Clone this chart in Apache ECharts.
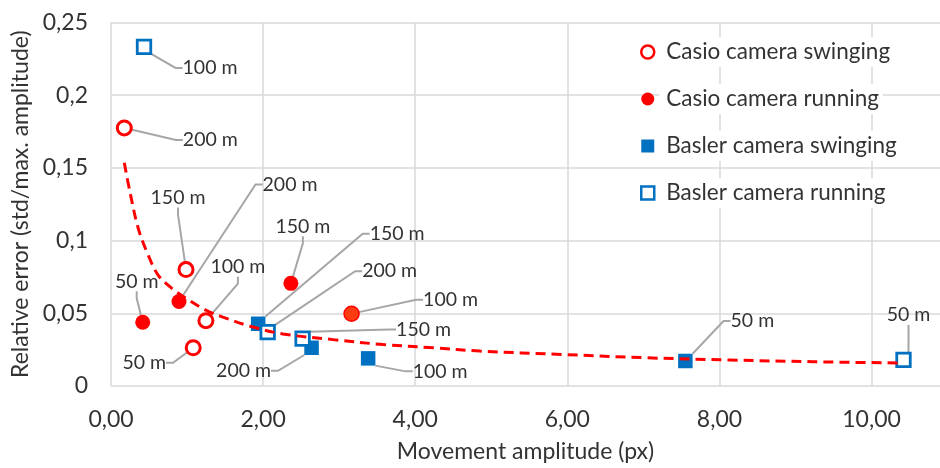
<!DOCTYPE html>
<html><head><meta charset="utf-8">
<script src="https://cdn.jsdelivr.net/npm/echarts@6/dist/echarts.min.js"></script>
<style>html,body{margin:0;padding:0;background:#fff}#c{width:940px;height:468px}</style>
</head><body><div id="c"></div>
<script>
// ---- data ----
const seriesNames = ['Casio camera swinging', 'Casio camera running', 'Basler camera swinging', 'Basler camera running'];

const casioSwingX = [0.175, 0.986, 1.248, 1.081];
const casioSwingY = [0.1775, 0.0801, 0.0449, 0.0263];
const casioSwingNames = ['200 m', '150 m', '100 m', '50 m'];

const casioRunX = [0.417, 0.894, 2.365, 3.163];
const casioRunY = [0.0438, 0.0581, 0.0706, 0.0497];
const casioRunNames = ['50 m', '200 m', '150 m', '100 m'];

const baslerSwingX = [1.935, 2.637, 3.381, 7.552];
const baslerSwingY = [0.0428, 0.0263, 0.0190, 0.0172];
const baslerSwingNames = ['150 m', '200 m', '100 m', '50 m'];

const baslerRunX = [0.434, 2.060, 2.519, 10.42];
const baslerRunY = [0.2332, 0.0370, 0.0326, 0.0179];
const baslerRunNames = ['100 m', '200 m', '150 m', '50 m'];

// trend line (power fit), sampled along the drawn curve
const trendX = [0.175, 0.25, 0.36, 0.49, 0.62, 0.80, 1.02, 1.24, 1.47, 1.83, 2.26, 2.92, 3.58, 4.24, 4.85, 5.94, 7.04, 8.13, 9.23, 10.42];
const trendY = [0.1536, 0.1332, 0.1081, 0.0899, 0.0763, 0.0672, 0.0592, 0.0524, 0.0474, 0.0411, 0.0358, 0.0319, 0.0285, 0.0263, 0.0240, 0.0217, 0.0194, 0.0179, 0.0167, 0.0158];

const xTickValues = [0, 2, 4, 6, 8, 10];

// ---- label placement (pixel offsets of each data label from its point) ----
const casioSwingLabelOffsets = [[86, 12], [-8, -72], [32, -54], [-49, 15]];
const casioRunLabelOffsets = [[-6, -41], [111, -117], [12, -57], [99, -14]];
const baslerSwingLabelOffsets = [[139, -90], [-68, 23], [72, 13], [67, -40]];
const baslerRunLabelOffsets = [[66, 21], [122, -61], [121, -9], [5, -45]];

const FONT = 'Lato, "Open Sans", sans-serif';
const TXT = '#333333';
const RED = '#ff0000';
const BLUE = '#0070c0';

function pts(xs, ys, names) {
  return xs.map((x, i) => ({ value: [x, ys[i]], name: names[i] }));
}
function lblLayout(offs) {
  return p => ({ dx: offs[p.dataIndex][0], dy: offs[p.dataIndex][1] });
}
const commonLabel = {
  show: true, position: 'inside', formatter: '{b}',
  color: TXT, fontFamily: FONT, fontSize: 19.5, align: 'center', verticalAlign: 'middle'
};
const commonLabelLine = { show: true, length2: 7, lineStyle: { color: '#a6a6a6', width: 2, opacity: 1 } };

const casioRunData = pts(casioRunX, casioRunY, casioRunNames);
casioRunData[3].itemStyle = { color: '#ff3b12', borderColor: RED, borderWidth: 1.5 };

const chart = echarts.init(document.getElementById('c'), null, { renderer: 'canvas' });
chart.setOption({
  animation: false,
  backgroundColor: '#fff',
  textStyle: { fontFamily: FONT },
  grid: { left: 111, right: 0, top: 22.5, bottom: 79.5, containLabel: false },
  legend: {
    data: [
      { name: seriesNames[0], itemStyle: { borderWidth: 2.5 } },
      { name: seriesNames[1] },
      { name: seriesNames[2] },
      { name: seriesNames[3], itemStyle: { borderWidth: 2.5 } }
    ],
    orient: 'vertical', left: 640, top: 37, padding: 0,
    itemWidth: 13, itemHeight: 13, itemGap: 17,
    textStyle: { color: TXT, fontFamily: FONT, fontSize: 22.5, backgroundColor: '#fff', padding: [3, 4, 3, 7], lineHeight: 24 },
    selectedMode: false
  },
  xAxis: {
    type: 'value', min: 0, max: 10.9,
    name: 'Movement amplitude (px)', nameLocation: 'middle', nameGap: 54,
    nameTextStyle: { color: TXT, fontFamily: FONT, fontSize: 23 },
    axisLine: { show: false },
    axisTick: { show: false, customValues: xTickValues },
    axisLabel: { customValues: xTickValues, margin: 22, color: TXT, fontFamily: FONT, fontSize: 23,
      formatter: v => v.toFixed(2).replace('.', ',') },
    splitLine: { show: true, lineStyle: { color: '#d9d9d9', width: 1.5 } }
  },
  yAxis: {
    type: 'value', min: 0, max: 0.25, interval: 0.05,
    name: 'Relative error (std/max. amplitude)', nameLocation: 'middle', nameGap: 76,
    nameTextStyle: { color: TXT, fontFamily: FONT, fontSize: 23 },
    axisLine: { show: false }, axisTick: { show: false },
    axisLabel: { margin: 23, color: TXT, fontFamily: FONT, fontSize: 23,
      formatter: v => v === 0 ? '0' : String(+v.toFixed(2)).replace('.', ',') },
    splitLine: { show: true, lineStyle: { color: '#d9d9d9', width: 1.5 } }
  },
  series: [
    {
      name: seriesNames[0], type: 'scatter', z: 2,
      symbol: 'circle', symbolSize: 14,
      itemStyle: { color: '#fff', borderColor: RED, borderWidth: 3, opacity: 1 },
      data: pts(casioSwingX, casioSwingY, casioSwingNames),
      label: commonLabel, labelLine: commonLabelLine, labelLayout: lblLayout(casioSwingLabelOffsets)
    },
    {
      name: seriesNames[1], type: 'scatter', z: 2,
      symbol: 'circle', symbolSize: 15,
      itemStyle: { color: RED, opacity: 1 },
      data: casioRunData,
      label: commonLabel, labelLine: commonLabelLine, labelLayout: lblLayout(casioRunLabelOffsets)
    },
    {
      name: seriesNames[2], type: 'scatter', z: 2,
      symbol: 'rect', symbolSize: 14.5,
      itemStyle: { color: BLUE, opacity: 1 },
      data: pts(baslerSwingX, baslerSwingY, baslerSwingNames),
      label: commonLabel, labelLine: commonLabelLine, labelLayout: lblLayout(baslerSwingLabelOffsets)
    },
    {
      name: seriesNames[3], type: 'scatter', z: 2,
      symbol: 'rect', symbolSize: 13.5,
      itemStyle: { color: '#fff', borderColor: BLUE, borderWidth: 2.8, opacity: 1 },
      data: pts(baslerRunX, baslerRunY, baslerRunNames),
      label: commonLabel, labelLine: commonLabelLine, labelLayout: lblLayout(baslerRunLabelOffsets)
    },
    {
      name: 'trend', type: 'line', z: 5, silent: true,
      showSymbol: false, symbol: 'none', smooth: 0.35,
      lineStyle: { color: RED, width: 3, type: [10, 6] },
      data: trendX.map((x, i) => [x, trendY[i]])
    }
  ]
});
</script></body></html>
